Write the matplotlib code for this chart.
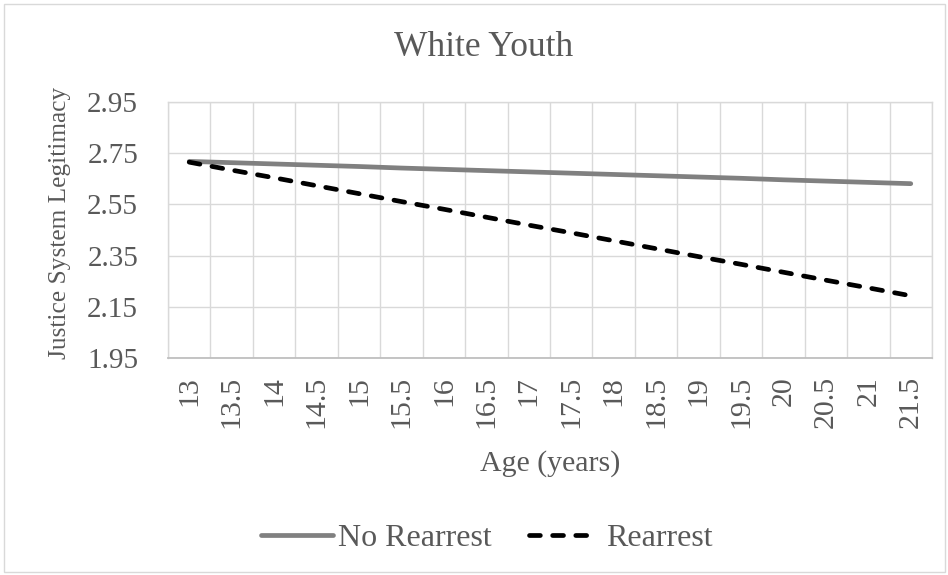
import matplotlib
matplotlib.use("Agg")
import matplotlib.pyplot as plt
from matplotlib.patches import Rectangle
from matplotlib.legend_handler import HandlerLine2D
import numpy as np

# Data
ages = ["13", "13.5", "14", "14.5", "15", "15.5", "16", "16.5", "17", "17.5",
        "18", "18.5", "19", "19.5", "20", "20.5", "21", "21.5"]
no_rearrest = [2.718, 2.713, 2.708, 2.703, 2.698, 2.692, 2.687, 2.682, 2.677,
               2.672, 2.667, 2.662, 2.657, 2.652, 2.646, 2.641, 2.636, 2.631]
rearrest = [2.715, 2.684, 2.654, 2.623, 2.592, 2.561, 2.531, 2.500, 2.469,
            2.439, 2.408, 2.377, 2.346, 2.316, 2.285, 2.254, 2.224, 2.193]
y_ticks = [1.95, 2.15, 2.35, 2.55, 2.75, 2.95]
y_tick_labels = ["1.95", "2.15", "2.35", "2.55", "2.75", "2.95"]

TEXT = "#595959"
GRID = "#D9D9D9"
plt.rcParams["font.family"] = ["Liberation Serif", "DejaVu Serif"]


class ShortHandler(HandlerLine2D):
    """Draws the legend line a bit shorter than the handle box."""
    def create_artists(self, legend, orig_handle, xdescent, ydescent, width,
                       height, fontsize, trans):
        return super().create_artists(legend, orig_handle, xdescent, ydescent,
                                      width * 0.87, height, fontsize, trans)


fig = plt.figure(figsize=(9.48, 5.75), dpi=100)
fig.patches.append(Rectangle((3.5 / 948, 3.5 / 575), 941 / 948, 568 / 575,
                             transform=fig.transFigure, fill=False,
                             edgecolor=GRID, linewidth=1.0))

ax = fig.add_axes([168 / 948, 1 - 358 / 575, (932 - 168) / 948, (358 - 102) / 575])
x = np.arange(len(ages))

l1, = ax.plot(x, no_rearrest, color="#808080", linewidth=3.4,
              solid_capstyle="round", label="No Rearrest", zorder=3)
l2, = ax.plot(x, rearrest, color="black", linewidth=3.4,
              linestyle=(0, (2.3, 2.6)), dash_capstyle="round",
              label="Rearrest", zorder=3)

ax.set_xlim(-0.5, len(ages) - 0.5)
ax.set_ylim(1.95, 2.95)
ax.set_xticks(x)
ax.set_xticklabels(ages, rotation=90, fontsize=21.5, color=TEXT)
ax.set_xticks(np.arange(len(ages) + 1) - 0.5, minor=True)
ax.set_yticks(y_ticks)
ax.set_yticklabels(y_tick_labels, fontsize=21, color=TEXT)
ax.tick_params(axis="both", which="both", length=0)
ax.tick_params(axis="y", pad=21.5)
ax.tick_params(axis="x", pad=13)
ax.grid(True, which="minor", axis="x", color=GRID, linewidth=1.0)
ax.grid(True, which="major", axis="y", color=GRID, linewidth=1.0)
ax.grid(False, which="major", axis="x")
for s in ["left", "top", "right"]:
    ax.spines[s].set_color(GRID)
    ax.spines[s].set_linewidth(1.0)
ax.spines["bottom"].set_color("#BFBFBF")
ax.spines["bottom"].set_linewidth(1.3)

ax.set_xlabel("Age (years)", fontsize=21.5, color=TEXT, labelpad=16)
fig.text(60 / 948, 1 - 223 / 575, "Justice System Legitimacy", rotation=90,
         fontsize=18.3, color=TEXT, ha="center", va="center")
fig.text(484 / 948, 1 - 56 / 575, "White Youth", fontsize=25.5, color=TEXT,
         ha="center", va="baseline")

leg = fig.legend(handles=[l1, l2], loc="center",
                 bbox_to_anchor=(487 / 948, 1 - 538 / 575),
                 ncol=2, frameon=False, fontsize=23, handlelength=2.25,
                 handletextpad=0.16, columnspacing=1.15, labelcolor=TEXT,
                 handler_map={l2: ShortHandler()})

fig.savefig("out.png", dpi=100)
